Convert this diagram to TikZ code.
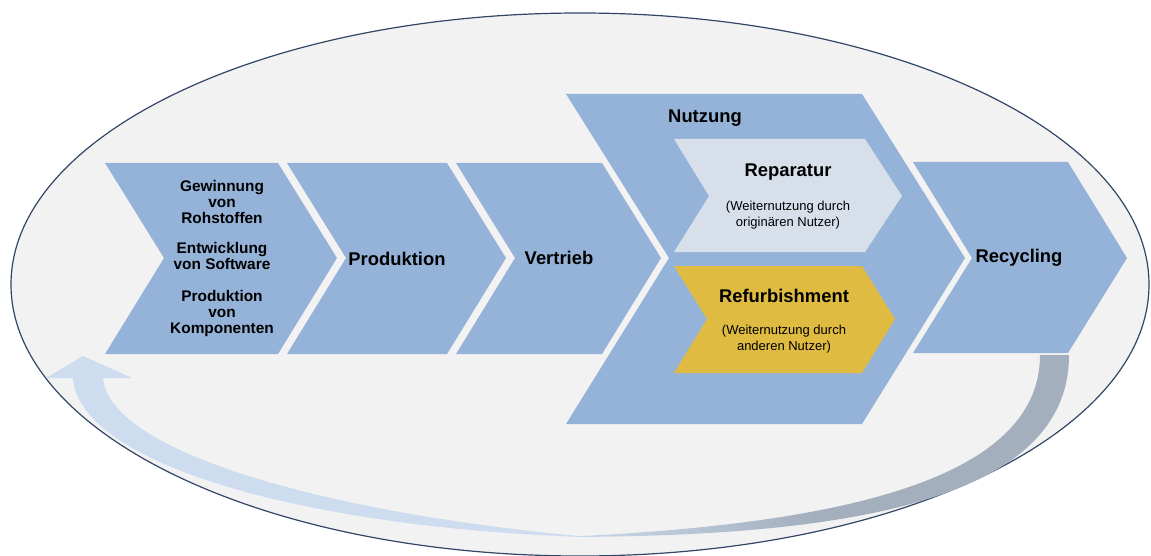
\documentclass[tikz,border=0pt]{standalone}
\usepackage{fontspec}
\setmainfont{Liberation Sans}
\definecolor{chev}{RGB}{149,179,217}
\definecolor{rep}{RGB}{215,223,234}
\definecolor{refu}{RGB}{224,187,65}
\definecolor{bg}{RGB}{242,242,242}
\definecolor{rim}{RGB}{50,70,102}
\definecolor{larrow}{RGB}{205,220,238}
\definecolor{garrow}{RGB}{163,175,189}
\begin{document}
\begin{tikzpicture}[x=1pt,y=-1pt,
  chevfill/.style={fill=chev},
  lbl/.style={font=\bfseries\fontsize{18.4}{22}\selectfont, inner sep=0pt},
  sublbl/.style={font=\fontsize{13}{15.7}\selectfont, align=center, inner sep=0pt},
  firstlbl/.style={font=\bfseries\fontsize{15.4}{16}\selectfont, align=center, inner sep=0pt}]
\useasboundingbox (0,0) rectangle (1151,556);
% background ellipse
\fill[white] (0,0) rectangle (1151,556);
\filldraw[fill=bg, draw=rim, line width=1.2pt] (580,284.5) ellipse [x radius=569pt, y radius=271.5pt];
% return arrows
\shade[left color=larrow, right color=garrow, middle color=garrow]
  (1069,355) .. controls (1069,500) and (850,537) .. (560,537)
  .. controls (840,525) and (1040,480) .. (1040,355) -- cycle;
\fill[larrow] (73,378) .. controls (80,470) and (330,530) .. (590,537)
  .. controls (340,515) and (110,455) .. (103,378) -- (132,378) -- (83,356) -- (46,378) -- cycle;
% chevrons
\fill[chevfill] (105,163) -- (278,163) -- (337,258) -- (278,354) -- (105,354) -- (164,258) -- cycle;
\fill[chevfill] (287,163) -- (447,163) -- (506,258) -- (447,354) -- (287,354) -- (346,258) -- cycle;
\fill[chevfill] (456,163) -- (602,163) -- (661,258) -- (602,354) -- (456,354) -- (515,258) -- cycle;
\fill[chevfill] (566,94) -- (862,94) -- (965,258) -- (862,424) -- (566,424) -- (669,258) -- cycle;
\fill[chevfill] (913,162) -- (1068,162) -- (1127,258) -- (1068,353) -- (913,353) -- (972,258) -- cycle;
\fill[rep] (674,139) -- (865,139) -- (902,196) -- (865,252) -- (674,252) -- (709,196) -- cycle;
\fill[refu] (674,266) -- (862,266) -- (895,319) -- (862,373) -- (674,373) -- (707,319) -- cycle;
% texts
\node[firstlbl] (first) at (222,258.5) {Gewinnung\\von\\Rohstoffen\\[14pt]Entwicklung\\von Software\\[16pt]Produktion\\von\\Komponenten};
\node[lbl] (prod) at (397,259) {Produktion};
\node[lbl] (vert) at (559,258) {Vertrieb};
\node[lbl] (nutz) at (705,118) {Nutzung};
\node[lbl] (rep) at (788,172) {Reparatur};
\node[sublbl] (repsub) at (788,215) {(Weiternutzung durch\\originären Nutzer)};
\node[lbl] (refu) at (784,296) {Refurbishment};
\node[sublbl] (refusub) at (784,339) {(Weiternutzung durch\\anderen Nutzer)};
\node[lbl] (recy) at (1019,258) {Recycling};
\end{tikzpicture}
\end{document}
